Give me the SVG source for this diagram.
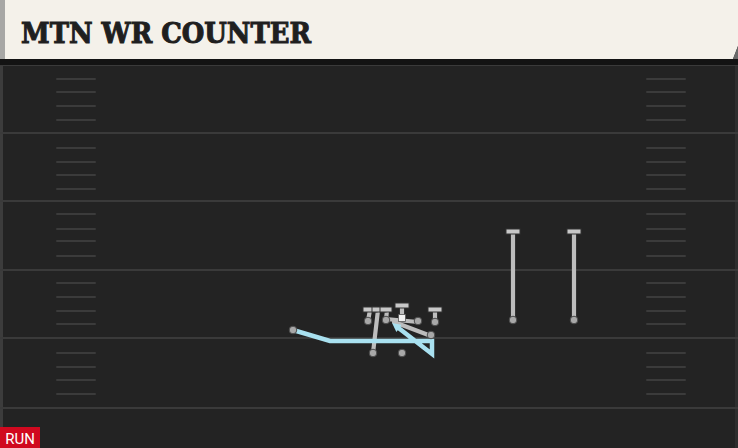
<svg xmlns="http://www.w3.org/2000/svg" width="738" height="448" viewBox="0 0 738 448">
<defs>
<style>
.yl{stroke:#3a3a3a;stroke-width:2}
.hm{stroke:#3b3b3b;stroke-width:2;stroke-linecap:round}
.rt{stroke:#bdbdbd;stroke-width:4.2;fill:none;stroke-linecap:round}
.blk{fill:#c8c8c8;stroke:#333;stroke-width:1}
.pl{fill:#a8a8a8;stroke:#4a4a4a;stroke-width:1}
.mv{stroke:#a9e1f0;stroke-width:4.5;fill:none;stroke-linejoin:miter}
</style>
<marker id="ah" markerWidth="9" markerHeight="9" refX="4" refY="4.5" orient="auto" markerUnits="userSpaceOnUse" viewBox="0 0 9 9">
<path d="M0,0 L9,4.5 L0,9 Z" fill="#a9e1f0"/>
</marker>
</defs>
<rect width="738" height="448" fill="#232323"/>
<rect x="0" y="0" width="3" height="448" fill="#3c3c3c"/>
<rect x="735" y="60" width="3" height="388" fill="#2e2e2e"/>
<g id="field">
<line class="yl" x1="0" y1="65" x2="738" y2="65"/>
<line class="yl" x1="0" y1="133" x2="738" y2="133"/>
<line class="yl" x1="0" y1="201" x2="738" y2="201"/>
<line class="yl" x1="0" y1="270" x2="738" y2="270"/>
<line class="yl" x1="0" y1="338" x2="738" y2="338"/>
<line class="yl" x1="0" y1="408" x2="738" y2="408"/>
<g id="hashL">
<line class="hm" x1="57" y1="79" x2="95" y2="79"/><line class="hm" x1="57" y1="92" x2="95" y2="92"/><line class="hm" x1="57" y1="106" x2="95" y2="106"/><line class="hm" x1="57" y1="120" x2="95" y2="120"/>
<line class="hm" x1="57" y1="148" x2="95" y2="148"/><line class="hm" x1="57" y1="162" x2="95" y2="162"/><line class="hm" x1="57" y1="175" x2="95" y2="175"/><line class="hm" x1="57" y1="189" x2="95" y2="189"/>
<line class="hm" x1="57" y1="214" x2="95" y2="214"/><line class="hm" x1="57" y1="229" x2="95" y2="229"/><line class="hm" x1="57" y1="241" x2="95" y2="241"/><line class="hm" x1="57" y1="256" x2="95" y2="256"/>
<line class="hm" x1="57" y1="283" x2="95" y2="283"/><line class="hm" x1="57" y1="297" x2="95" y2="297"/><line class="hm" x1="57" y1="311" x2="95" y2="311"/><line class="hm" x1="57" y1="324" x2="95" y2="324"/>
<line class="hm" x1="57" y1="353" x2="95" y2="353"/><line class="hm" x1="57" y1="367" x2="95" y2="367"/><line class="hm" x1="57" y1="380" x2="95" y2="380"/><line class="hm" x1="57" y1="394" x2="95" y2="394"/>
</g>
<g id="hashR">
<line class="hm" x1="647" y1="79" x2="685" y2="79"/><line class="hm" x1="647" y1="92" x2="685" y2="92"/><line class="hm" x1="647" y1="106" x2="685" y2="106"/><line class="hm" x1="647" y1="120" x2="685" y2="120"/>
<line class="hm" x1="647" y1="148" x2="685" y2="148"/><line class="hm" x1="647" y1="162" x2="685" y2="162"/><line class="hm" x1="647" y1="175" x2="685" y2="175"/><line class="hm" x1="647" y1="189" x2="685" y2="189"/>
<line class="hm" x1="647" y1="214" x2="685" y2="214"/><line class="hm" x1="647" y1="229" x2="685" y2="229"/><line class="hm" x1="647" y1="241" x2="685" y2="241"/><line class="hm" x1="647" y1="256" x2="685" y2="256"/>
<line class="hm" x1="647" y1="283" x2="685" y2="283"/><line class="hm" x1="647" y1="297" x2="685" y2="297"/><line class="hm" x1="647" y1="311" x2="685" y2="311"/><line class="hm" x1="647" y1="324" x2="685" y2="324"/>
<line class="hm" x1="647" y1="353" x2="685" y2="353"/><line class="hm" x1="647" y1="367" x2="685" y2="367"/><line class="hm" x1="647" y1="380" x2="685" y2="380"/><line class="hm" x1="647" y1="394" x2="685" y2="394"/>
</g>
</g>
<g id="header">
<rect x="0" y="59" width="738" height="6" fill="#131313"/>
<path d="M0,0 H738 V46 L733,59 H0 Z" fill="#f4f1ea"/>
<path d="M733,59 L738,46 V59 Z" fill="#6a6a6a"/>
<rect x="0" y="0" width="5" height="59" fill="#a7a7a5"/>
<text x="21" y="43" font-family="'DejaVu Serif', 'Liberation Serif', serif" font-weight="bold" font-size="27" fill="#1f1f1f" stroke="#1f1f1f" stroke-width="1" textLength="290" lengthAdjust="spacingAndGlyphs">MTN WR COUNTER</text>
</g>
<g id="connectors">
<line class="rt" x1="513" y1="320" x2="513" y2="232"/>
<line class="rt" x1="574" y1="320" x2="574" y2="232"/>
<line class="rt" x1="368" y1="321" x2="370" y2="310"/>
<line class="rt" x1="373" y1="353" x2="378" y2="310"/>
<line class="rt" x1="386" y1="320" x2="387" y2="310"/>
<line class="rt" x1="402" y1="318" x2="402" y2="306"/>
<line class="rt" x1="435" y1="322" x2="435" y2="310"/>
<line class="rt" x1="386" y1="319" x2="418" y2="322"/>
<line class="rt" x1="431" y1="336" x2="394" y2="322"/>
<path class="mv" d="M293,330 L330,341 L432,341 L432,354 L396,326" marker-end="url(#ah)"/>
</g>
<g id="p-wr1"><rect class="blk" x="506" y="229" width="14" height="5"/><circle class="pl" cx="513" cy="320" r="3.8"/></g>
<g id="p-wr2"><rect class="blk" x="567" y="229" width="14" height="5"/><circle class="pl" cx="574" cy="320" r="3.8"/></g>
<g id="p-lt"><rect class="blk" x="363" y="307" width="14" height="5"/><circle class="pl" cx="368" cy="321" r="3.8"/></g>
<g id="p-lg"><rect class="blk" x="372" y="307" width="14" height="5"/><rect class="blk" x="380" y="307" width="12" height="5"/><circle class="pl" cx="386" cy="320" r="3.8"/></g>
<g id="p-c"><rect class="blk" x="395" y="303" width="14" height="5"/><rect x="398.5" y="314.5" width="7" height="7" fill="#f2f2f2" stroke="#555" stroke-width="0.8"/></g>
<g id="p-rg"><circle class="pl" cx="418" cy="321" r="3.8"/></g>
<g id="p-rt"><rect class="blk" x="428" y="307" width="14" height="5"/><circle class="pl" cx="435" cy="322" r="3.8"/></g>
<g id="p-te"><circle class="pl" cx="431" cy="335" r="3.8"/></g>
<g id="p-wr3"><circle class="pl" cx="293" cy="330" r="3.8"/></g>
<g id="p-rb"><circle class="pl" cx="373" cy="353" r="3.8"/></g>
<g id="p-qb"><circle class="pl" cx="402" cy="353" r="3.8" fill="#777"/></g>
<g id="badge">
<rect x="0" y="427" width="40" height="21" fill="#d0091f"/>
<text x="20" y="444" font-family="Roboto, 'Liberation Sans', sans-serif" font-size="15" fill="#ffffff" text-anchor="middle">RUN</text>
</g>
</svg>
